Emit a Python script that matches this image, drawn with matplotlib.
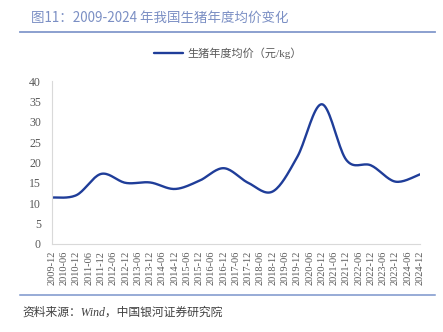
import numpy as np
import matplotlib
matplotlib.use("Agg")
import matplotlib.pyplot as plt

# 生猪年度均价（元/kg），每年12月
years = list(range(2009, 2025))
prices = [11.4, 12.0, 17.2, 15.0, 15.1, 13.5, 15.5, 18.6, 15.0, 12.9,
          21.4, 34.3, 20.6, 19.3, 15.3, 17.1]

tick_labels = []
for y in years:
    if y > 2009:
        tick_labels.append(f"{y}-06")
    tick_labels.append(f"{y}-12")

FONTS = ['Liberation Serif', 'Noto Sans CJK SC']
plt.rcParams['font.family'] = FONTS


def smooth(xs, ys, n=20):
    # Excel 风格的平滑线（Catmull-Rom 贝塞尔）
    xs = np.asarray(xs, float)
    ys = np.asarray(ys, float)
    px = np.concatenate([[xs[0]], xs, [xs[-1]]])
    py = np.concatenate([[ys[0]], ys, [ys[-1]]])
    ox, oy = [], []
    for i in range(1, len(px) - 2):
        p0 = np.array([px[i], py[i]])
        p3 = np.array([px[i + 1], py[i + 1]])
        c1 = p0 + (np.array([px[i + 1], py[i + 1]]) - np.array([px[i - 1], py[i - 1]])) / 6
        c2 = p3 - (np.array([px[i + 2], py[i + 2]]) - np.array([px[i], py[i]])) / 6
        t = np.linspace(0, 1, n)[:, None]
        pts = (1 - t) ** 3 * p0 + 3 * (1 - t) ** 2 * t * c1 + 3 * (1 - t) * t ** 2 * c2 + t ** 3 * p3
        ox.extend(pts[:, 0])
        oy.extend(pts[:, 1])
    return np.array(ox), np.array(oy)


fig = plt.figure(figsize=(4.43, 3.32), dpi=100)
ax = fig.add_axes([52 / 443, 1 - 244 / 332, 368 / 443, 163 / 332])

xpos = [2 * i for i in range(len(years))]
sx, sy = smooth(xpos, prices)
ax.plot(sx, sy, color='#1f3d99', lw=1.7, label='生猪年度均价（元/kg）', solid_capstyle='round')

ax.set_xlim(0, len(tick_labels) - 1)
ax.set_ylim(0, 40)
ax.set_yticks(range(0, 41, 5))
ax.set_xticks(range(len(tick_labels)))
ax.set_xticklabels(tick_labels, rotation=90, fontsize=7.5, color='#595959')
ax.tick_params(axis='y', labelsize=8.5, labelcolor='#595959', length=0, pad=8)
ax.tick_params(axis='x', length=0, pad=5)
for s in ['top', 'right']:
    ax.spines[s].set_visible(False)
for s in ['left', 'bottom']:
    ax.spines[s].set_color('#d9d9d9')
    ax.spines[s].set_linewidth(0.8)

leg = fig.legend(loc='center', bbox_to_anchor=(228 / 443, 1 - 53 / 332), frameon=False,
                 fontsize=8, handlelength=2.6, handletextpad=0.4)
for t in leg.get_texts():
    t.set_color('#595959')

fig.text(31 / 443, 1 - 18 / 332, '图11：2009-2024 年我国生猪年度均价变化', fontsize=9.7,
         family=['Noto Sans CJK SC', 'DejaVu Sans'],
         color='#7b8fc4', va='center', ha='left')
fig.add_artist(plt.Line2D([20 / 443, 435 / 443], [1 - 32 / 332, 1 - 32 / 332], color='#8299cc', lw=1.3))
fig.add_artist(plt.Line2D([20 / 443, 435 / 443], [1 - 295 / 332, 1 - 295 / 332], color='#7a95cc', lw=1.1))
fig.text(22 / 443, 1 - 313 / 332, '资料来源：Wind，中国银河证券研究院', fontsize=8.5, style='italic',
         color='#404040', va='center', ha='left')

fig.savefig('out.png', dpi=100)
